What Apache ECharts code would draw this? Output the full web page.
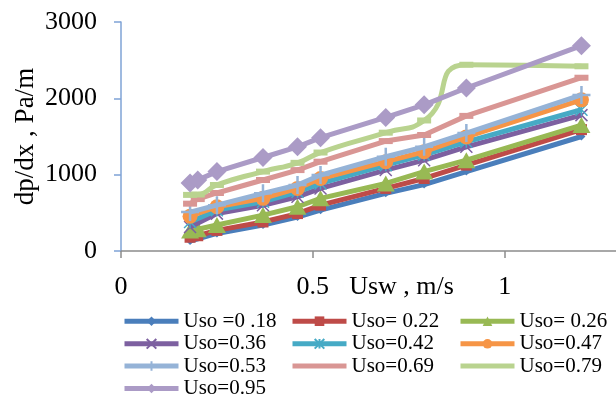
<!DOCTYPE html>
<html>
<head>
<meta charset="utf-8">
<script src="https://cdn.jsdelivr.net/npm/echarts@6/dist/echarts.min.js"></script>
<style>
  html, body { margin: 0; padding: 0; background: #fff; }
  #chart { width: 616px; height: 395px; }
</style>
</head>
<body>
<div id="chart"></div>
<script>
// Superficial water velocity, m/s
var usw = [0.18, 0.20, 0.25, 0.37, 0.46, 0.52, 0.69, 0.79, 0.90, 1.20];

// Pressure gradient dp/dx (Pa/m) for each superficial oil velocity
var uso018 = [130, null, 230, 340, 445, 535, 755, 870, 1040, 1500];
var uso022 = [180, 200, 270, 380, 490, 600, 820, 950, 1125, 1590];
var uso026 = [270, 285, 340, 470, 580, 690, 885, 1040, 1190, 1650];
var uso036 = [315, null, 490, 600, 710, 820, 1060, 1190, 1365, 1780];
var uso042 = [380, null, 535, 645, 775, 885, 1125, 1260, 1430, 1850];
var uso047 = [455, null, 580, 690, 820, 950, 1170, 1300, 1495, 1980];
var uso053 = [510, null, 600, 755, 865, 995, 1235, 1365, 1545, 2045];
var uso069 = [620, 680, 760, 930, 1060, 1170, 1440, 1520, 1770, 2270];
var uso079 = [735, 740, 865, 1040, 1155, 1290, 1550, 1710, 2440, 2420];
var uso095 = [890, 930, 1040, 1225, 1365, 1485, 1750, 1915, 2135, 2690];

var seriesNames = ['Uso =0 .18', 'Uso= 0.22', 'Uso= 0.26', 'Uso=0.36', 'Uso=0.42',
                   'Uso=0.47', 'Uso=0.53', 'Uso=0.69', 'Uso=0.79', 'Uso=0.95'];
var seriesValues = [uso018, uso022, uso026, uso036, uso042, uso047, uso053, uso069, uso079, uso095];

var xTicks = [0, 0.5, 1];
var yTicks = [0, 1000, 2000, 3000];

var colors = ['#4a7ebb', '#be4b48', '#98b954', '#7d60a0', '#46aac5',
              '#f69546', '#95b3d7', '#d99694', '#b9d38f', '#ab9bc6'];

var symbolX = 'path://M0,0L10,10M10,0L0,10';
var symbolStar = 'path://M5,0L5,10M0,0L10,10M10,0L0,10';
var symbolPlus = 'path://M5,0L5,10M0,5L10,5';

var markers = [
  { symbol: 'diamond', size: 8, stroke: 0 },
  { symbol: 'rect', size: 11, stroke: 0 },
  { symbol: 'triangle', size: [18, 16], stroke: 0 },
  { symbol: symbolX, size: 12, stroke: 1.5 },
  { symbol: symbolStar, size: 12, stroke: 1.5 },
  { symbol: 'circle', size: 15, stroke: 0 },
  { symbol: symbolPlus, size: 18, stroke: 2.5 },
  { symbol: 'rect', size: [14, 6], stroke: 0 },
  { symbol: 'rect', size: [14, 6], stroke: 0 },
  { symbol: 'diamond', size: 19, stroke: 0 }
];

var serif = 'Liberation Serif, Times New Roman, serif';

var series = seriesNames.map(function (name, i) {
  var m = markers[i];
  return {
    name: name,
    type: 'line',
    data: usw.map(function (x, j) { return [x, seriesValues[i][j]]; })
             .filter(function (p) { return p[1] !== null; }),
    smooth: name === 'Uso=0.79' ? 0.6 : false,
    symbol: m.symbol,
    symbolSize: m.size,
    showAllSymbol: true,
    lineStyle: { width: 5, color: colors[i] },
    itemStyle: {
      color: colors[i],
      borderColor: colors[i],
      borderWidth: m.stroke
    },
    emphasis: { disabled: true },
    z: 2 + i
  };
});

// Legend laid out as a 3-column grid, one entry per block
var legendCols = [122, 290, 458];
var legendRows = [320.7, 343.3, 365.5, 388];
var legends = seriesNames.map(function (name, i) {
  var item = { name: name };
  if (name === 'Uso=0.69' || name === 'Uso=0.79') {
    item.itemStyle = { opacity: 0 };
  }
  return {
    orient: 'horizontal',
    left: legendCols[i % 3],
    top: legendRows[Math.floor(i / 3)] - 10,
    padding: 0,
    itemWidth: 54,
    itemHeight: 12,
    selectedMode: false,
    lineStyle: { width: 5 },
    textStyle: { fontFamily: serif, fontSize: 21, lineHeight: 20, color: '#000' },
    data: [item]
  };
});

var chart = echarts.init(document.getElementById('chart'), null, { renderer: 'canvas' });
chart.setOption({
  animation: false,
  backgroundColor: '#fff',
  grid: { left: 121, top: 22, right: 0, bottom: 144, containLabel: false, outerBoundsMode: 'none' },
  legend: legends,
  xAxis: {
    type: 'value',
    min: 0,
    max: 1.29,
    interval: 0.5,
    name: 'Usw , m/s',
    nameLocation: 'middle',
    nameGap: 23,
    nameMoveOverlap: false,
    nameTextStyle: { fontFamily: serif, fontSize: 26, color: '#000', padding: [0, 0, 0, 66] },
    axisLine: { show: true, onZero: false, lineStyle: { color: '#8c8c8c', width: 1.5 } },
    axisTick: { show: true, length: 7, lineStyle: { color: '#8c8c8c', width: 1.5 }, customValues: xTicks },
    axisLabel: { margin: 23, fontFamily: serif, fontSize: 26, color: '#000', customValues: xTicks },
    splitLine: { show: false }
  },
  yAxis: {
    type: 'value',
    min: 0,
    max: 3000,
    interval: 1000,
    name: 'dp/dx , Pa/m',
    nameLocation: 'middle',
    nameGap: 82,
    nameMoveOverlap: false,
    nameTextStyle: { fontFamily: serif, fontSize: 27, color: '#000' },
    axisLine: { show: true, lineStyle: { color: '#7fa3d6', width: 1.5 } },
    axisTick: { show: true, length: 7, lineStyle: { color: '#7fa3d6', width: 1.5 }, customValues: yTicks },
    axisLabel: {
      margin: 24, fontFamily: serif, fontSize: 26, color: '#000', customValues: yTicks,
      formatter: function (v) { return String(v); }
    },
    splitLine: { show: false }
  },
  series: series
});
</script>
</body>
</html>
